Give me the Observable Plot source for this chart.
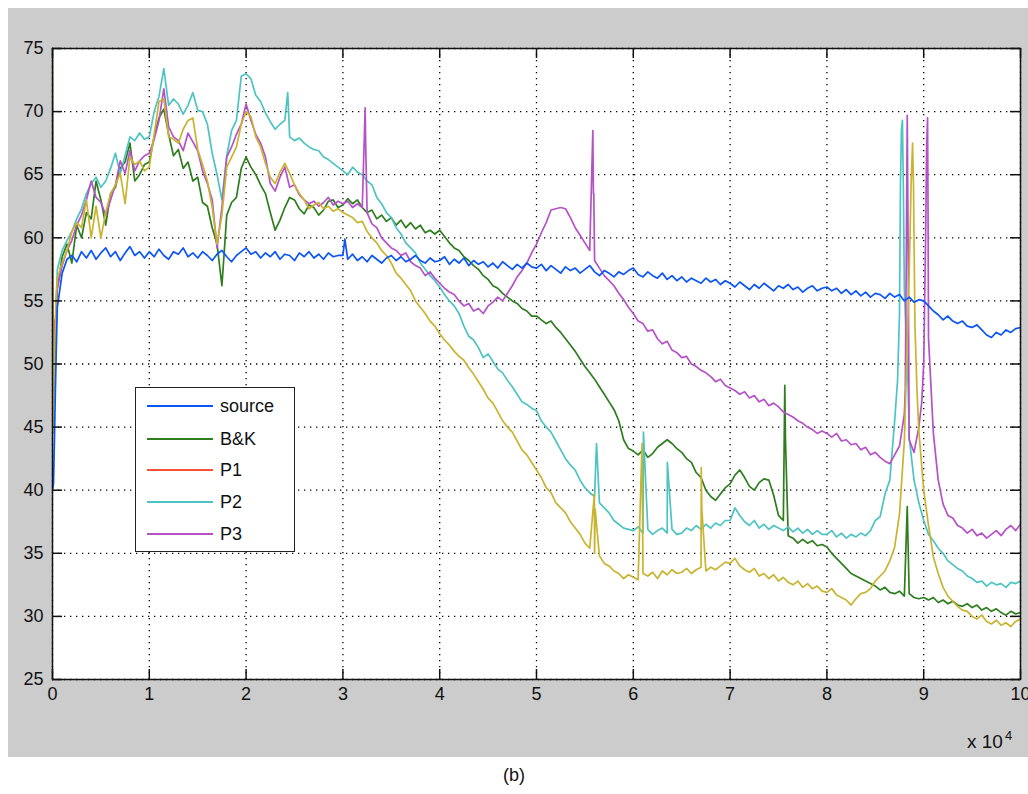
<!DOCTYPE html>
<html>
<head>
<meta charset="utf-8">
<script src="https://cdn.jsdelivr.net/npm/d3@7"></script>
<script src="https://cdn.jsdelivr.net/npm/@observablehq/plot@0.6"></script>
<style>
  body { margin: 0; background: #ffffff; font-family: "Liberation Sans", Arial, sans-serif; }
  #wrap { position: relative; width: 1028px; height: 794px; overflow: hidden; }
  #bg { position: absolute; left: 8px; top: 8px; width: 1020px; height: 749px; background: #cccccc; }
  #chart { position: absolute; left: 0; top: 0; }
  #legend { position: absolute; left: 135px; top: 387px; width: 158px; height: 163px; background: #fff; border: 1.5px solid #222; }
  .entry { position: absolute; left: 0; height: 20px; width: 158px; }
  .swatch { position: absolute; left: 11px; width: 66px; height: 0; border-top: 2px solid; top: 9px; }
  .lab { position: absolute; left: 84px; top: 0; font-size: 18px; line-height: 20px; color: #111; }
  #xexp { position: absolute; left: 967px; top: 732px; font-size: 19px; line-height: 1; color: #111; }
  #xexp sup { font-size: 13px; position: relative; top: -8px; vertical-align: baseline; margin-left: 2px; }
  #cap { position: absolute; left: 0; width: 1028px; text-align: center; top: 766px; font-size: 18px; line-height: 1; color: #111; }
</style>
</head>
<body>
<div id="wrap">
  <div id="bg"></div>
  <div id="chart"></div>
  <div id="legend"></div>
  <div id="xexp">x 10<sup>4</sup></div>
  <div id="cap">(b)</div>
</div>
<script>
// ---- axis ticks ----
const xTicks = [0, 1, 2, 3, 4, 5, 6, 7, 8, 9, 10];
const yTicks = [25, 30, 35, 40, 45, 50, 55, 60, 65, 70, 75];
const xStep = 0.05; // sampling step (x 10^4) of the value lists below

// ---- series values (one value every 0.05 from 0 to 10) ----
const sourceVals = [
  40, 54.5, 57.2, 58.3, 58.6, 58.1, 58.9, 58.4, 59.0, 58.3, 58.8, 59.2, 58.5, 58.9, 58.2, 58.8, 59.3, 58.6, 58.9, 58.4,
  58.9, 58.5, 59.1, 58.6, 58.3, 58.9, 58.7, 59.2, 58.5, 58.8, 58.4, 58.9, 58.6, 58.2, 58.7, 59.0, 58.5, 58.1, 58.6, 58.9,
  59.2, 58.7, 58.9, 58.4, 58.8, 58.5, 58.9, 58.3, 58.7, 58.6, 58.2, 58.8, 58.5, 58.9, 58.4, 58.7, 58.3, 58.8, 58.5, 58.6,
  58.6, 58.3, 58.7, 58.2, 58.5, 58.1, 58.6, 58.3, 58.0, 58.4, 58.6, 58.2, 58.5, 58.1, 58.3, 58.6, 58.2, 58.0, 58.4, 58.1,
  58.2, 58.5, 57.9, 58.3, 58.0, 58.4, 57.8, 58.2, 57.9, 58.1, 57.7, 58.0, 57.6, 58.1, 57.8, 57.5, 57.9, 57.6, 58.0, 57.7,
  57.6, 57.9, 57.4, 57.8, 57.5, 57.2, 57.7, 57.4, 57.6, 57.2, 57.5, 57.8, 57.3, 57.0, 57.4, 57.2, 56.9, 57.3, 57.1, 57.4,
  57.6, 57.1, 56.9, 57.3, 57.0, 56.8, 57.2, 56.7, 57.0, 56.6, 56.9, 56.5, 56.8, 56.6, 56.4, 56.8, 56.5, 56.7, 56.3, 56.6,
  56.4, 56.1, 56.5, 56.2, 55.9, 56.3, 56.0, 56.4, 56.1, 55.8, 56.2, 56.0, 56.3, 55.9, 56.1, 55.7, 56.0, 56.2, 55.8, 56.0,
  56.1, 55.8, 56.0, 55.6, 55.9, 55.5, 55.8, 55.4, 55.7, 55.3, 55.6, 55.5, 55.2, 55.6, 55.3, 55.5, 55.0, 55.3, 54.9, 55.1,
  55.0, 54.6, 54.2, 53.9, 53.5, 53.8, 53.4, 53.2, 53.4, 53.0, 52.9, 53.1, 52.7, 52.3, 52.1, 52.5, 52.3, 52.7, 52.5, 52.8,
  52.9
];
const sourceExtra = [[0.01, 40.5], [0.02, 44], [0.03, 48], [0.04, 51.5], [3.02, 59.9]];

const bkVals = [
  75, 56.0, 58.5, 59.5, 58.0, 61.0, 60.0, 62.0, 61.5, 64.5, 63.0, 61.0, 63.5, 64.0, 65.5, 66.0, 67.5, 64.5, 65.0, 65.8,
  66.0, 68.0, 69.5, 70.2, 68.2, 66.5, 67.0, 65.5, 66.0, 64.5, 64.8, 62.8, 62.5, 60.8, 59.5, 56.2, 61.8, 62.8, 63.2, 65.5,
  66.4, 65.6, 65.0, 64.2, 63.5, 62.0, 60.6, 61.4, 62.4, 63.2, 63.0, 62.3, 61.9, 62.6, 62.4, 61.8, 62.2, 62.9, 63.0, 62.4,
  62.6, 63.1, 62.7, 63.0, 62.4, 62.0, 62.2, 61.5, 61.8, 61.3, 61.6, 61.0, 61.4, 60.8, 61.2, 60.7, 61.0, 60.4, 60.6, 60.3,
  60.6, 60.1, 59.6, 59.2, 59.0, 58.5, 58.2, 57.8, 57.5, 57.0, 56.7, 56.2, 56.0, 55.6, 55.3, 55.0, 54.8, 54.4, 54.2, 53.8,
  53.8, 53.5, 53.2, 53.4, 52.9, 52.5, 52.0, 51.5, 51.0, 50.4, 49.8, 49.3, 48.8, 48.2, 47.6, 47.0, 46.4, 45.5, 44.0, 43.3,
  43.1, 42.8, 43.2, 42.6, 42.9, 43.4, 43.7, 44.0, 43.7, 43.3, 43.0, 42.5, 42.2, 41.4, 41.0, 40.0, 39.5, 39.2, 39.7, 40.2,
  40.5, 41.2, 41.6, 41.0, 40.3, 40.0, 40.6, 40.9, 40.8, 39.6, 38.0, 37.6, 36.4, 36.2, 35.8, 36.1, 35.8, 36.0, 35.6, 35.7,
  35.5, 35.0, 34.6, 34.2, 33.8, 33.4, 33.2, 33.0, 32.8, 32.6, 32.4, 32.1, 32.3, 31.9, 31.8, 32.0, 31.6, 31.8, 31.5, 31.4,
  31.5, 31.3, 31.5, 31.1, 31.3, 31.0, 31.2, 30.9, 30.8, 31.0, 30.7, 30.9, 30.5, 30.7, 30.4, 30.6, 30.3, 30.1, 30.4, 30.2,
  30.3
];
const bkExtra = [[0.008, 47.5], [0.02, 50.5], [0.035, 54], [7.565, 48.3], [7.572, 44], [8.83, 38.7]];

const p2Vals = [
  52.0, 57.5, 59.0, 59.8, 60.5, 61.5, 62.3, 63.5, 64.3, 64.8, 64.0, 64.5, 65.5, 66.7, 65.1, 66.5, 68.0, 67.7, 68.3, 67.8,
  68.0, 70.0, 71.2, 73.4, 70.5, 71.0, 70.6, 69.8, 70.5, 71.5, 70.1, 70.0, 69.0, 66.7, 65.0, 63.0, 66.5, 68.5, 69.3, 72.8,
  73.0, 72.6, 71.3, 70.8, 69.9, 69.2, 68.6, 69.0, 69.3, 68.0, 67.7, 67.9, 67.5, 67.2, 67.0, 66.9, 66.4, 66.2, 65.9, 65.6,
  65.3, 65.0, 65.6, 65.2, 65.0, 64.5, 64.2, 63.2, 62.7, 62.0, 61.6, 60.8, 60.3, 59.6, 59.2, 58.8, 58.0, 57.5, 57.0, 56.6,
  56.1, 55.5, 55.0, 54.6, 54.0, 53.0, 52.2, 51.9, 51.3, 50.5, 50.8, 50.2, 49.6, 49.3, 48.7, 48.2, 47.6, 47.0, 46.8, 46.5,
  46.3, 45.5, 45.0, 44.6, 43.9, 43.2, 42.5, 42.0, 41.6, 40.8, 40.2, 39.8, 39.5, 39.0, 38.6, 38.2, 37.6, 37.3, 37.0, 36.9,
  36.8, 37.1, 36.6, 36.9, 36.5, 36.8, 37.0, 36.6, 36.9, 36.5, 36.6, 37.0, 36.8, 37.2, 36.9, 37.3, 37.0, 37.4, 37.2, 37.6,
  37.6, 38.6, 38.0, 37.5, 37.2, 37.6, 37.0, 37.3, 36.9, 37.2, 37.0, 36.8, 37.1, 36.7, 37.0, 36.6, 36.9, 36.5, 36.8, 36.5,
  36.5, 36.8, 36.3, 36.6, 36.2, 36.5, 36.3, 36.6, 36.4, 36.8, 37.6, 37.9, 39.7, 40.8, 45.5, 54.0, 56.0, 44.2, 40.8, 39.0,
  37.6, 36.5, 36.0, 35.4, 35.0, 34.4, 34.1, 33.8, 33.6, 33.2, 33.0, 32.7, 32.8, 32.4, 32.7, 32.5, 32.6, 32.3, 32.7, 32.6,
  32.8
];
const p2Extra = [[0.01, 47], [0.03, 53], [2.43, 71.5], [5.62, 43.7], [6.105, 44.6], [6.352, 42.2],
  [8.73, 48.7], [8.76, 64.3], [8.77, 68.5], [8.78, 69.3], [8.79, 63.9], [8.82, 52], [8.84, 48]];

const p3Vals = [
  65.5, 56.0, 57.8, 59.0, 59.8, 61.0, 61.8, 63.0, 64.5, 63.2, 62.8, 61.8, 63.0, 64.2, 66.1, 65.1, 66.9, 65.3, 66.1, 66.5,
  66.7, 67.8, 69.3, 71.8, 68.8, 68.0, 67.7, 66.9, 68.3, 67.6, 66.9, 65.3, 64.3, 63.0, 59.2, 62.4, 66.4, 67.2, 68.2, 69.0,
  70.6, 69.3, 68.2, 67.5, 66.4, 64.3, 63.7, 64.8, 65.6, 64.0, 64.2, 63.4, 63.0, 62.7, 62.9, 62.5, 62.8, 63.2, 62.6, 62.9,
  62.7, 62.9, 62.4, 62.7, 62.4, 62.0, 61.1, 60.8, 60.0, 59.6, 59.2, 59.0, 58.6, 58.8, 58.1, 57.8, 57.6, 57.0, 57.3, 56.8,
  56.4, 56.0, 55.7, 55.5, 55.0, 54.6, 54.8, 54.2, 54.4, 54.0, 54.6, 54.9, 55.3, 55.0, 55.6, 56.2, 56.9, 57.4, 58.0, 58.8,
  59.5, 60.4, 61.2, 62.2, 62.3, 62.4, 62.3, 61.6, 60.8, 60.2, 59.6, 59.0, 58.2, 57.6, 57.0, 56.6, 56.2, 55.6, 55.1, 54.5,
  54.0, 53.4, 53.2, 52.6, 52.7, 52.0, 51.6, 51.8, 51.1, 50.9, 50.5, 50.6, 50.0, 49.8, 49.5, 49.3, 49.0, 48.6, 48.8, 48.3,
  48.1, 47.9, 47.6, 47.8, 47.3, 47.5, 47.0, 47.2, 46.7, 46.9, 46.6, 46.2, 46.0, 45.8, 45.5, 45.3, 45.0, 44.8, 44.5, 44.7,
  44.5, 44.2, 44.5, 43.9, 44.0, 43.6, 43.7, 43.2, 43.4, 42.8, 43.0, 42.6, 42.3, 42.1, 42.8, 43.5, 46.0, 44.0, 43.0, 45.0,
  50.0, 52.0, 44.5, 40.8, 38.9, 38.0, 37.8, 37.2, 37.0, 36.6, 36.9, 36.4, 36.6, 36.2, 36.5, 36.8, 36.4, 36.9, 37.2, 36.8,
  37.3
];
const p3Extra = [[0.005, 50.0], [0.015, 53.5], [0.03, 52], [0.04, 55], [3.23, 70.3], [3.235, 67.5],
  [5.582, 68.5], [5.588, 63.5], [5.592, 63.5], [8.81, 48], [8.82, 58.4], [8.83, 69.7], [8.84, 58.4],
  [8.98, 47], [9.02, 60], [9.03, 67.2], [9.04, 69.5], [9.045, 62]];

// olive trace drawn in the figure (not listed in its legend)
const oliveVals = [
  61.5, 56.8, 58.0, 59.0, 60.5, 61.2, 60.8, 63.0, 60.0, 62.5, 60.0, 62.0, 63.5, 64.2, 65.1, 62.7, 66.4, 65.8, 66.1, 65.3,
  65.6, 68.2, 70.8, 71.0, 68.0, 67.8, 67.5, 68.6, 69.3, 69.5, 67.0, 65.8, 64.5, 62.4, 59.5, 61.8, 65.6, 66.4, 67.2, 69.0,
  70.0, 69.6, 68.0, 67.2, 65.9, 64.8, 64.3, 65.2, 65.9, 65.1, 64.2, 63.5, 63.0, 62.3, 62.6, 62.8, 62.3, 62.5, 62.1, 62.3,
  62.0, 61.8, 61.6, 61.2, 61.3, 60.5, 60.0, 59.6, 59.0, 58.6, 58.0, 57.2, 56.8, 56.3, 55.8, 55.0, 54.5, 54.0, 53.4, 53.0,
  52.4, 51.9, 51.5, 51.0, 50.6, 50.3, 49.7, 49.2, 48.6, 48.0, 47.3, 46.9, 46.2, 45.5, 45.0, 44.6, 43.9, 43.2, 42.8, 42.2,
  41.6, 41.0, 40.2, 39.8, 39.0, 38.6, 38.2, 37.5, 37.0, 36.5, 35.8, 35.4, 35.0, 34.8, 34.2, 34.0, 33.6, 33.4, 33.0, 33.3,
  33.1, 32.9, 33.4, 33.2, 33.5, 33.0, 33.6, 33.3, 33.7, 33.4, 33.5, 33.8, 33.4, 33.7, 33.9, 33.6, 33.9, 33.7, 34.0, 34.3,
  34.2, 34.6, 34.0, 33.7, 33.5, 33.8, 33.2, 33.4, 33.0, 33.3, 32.8, 33.1, 32.7, 32.5, 32.8, 32.3, 32.6, 32.2, 32.4, 32.0,
  31.9, 32.2, 31.7, 31.5, 31.3, 30.9, 31.4, 31.8, 31.9, 32.2, 32.8, 33.2, 33.6, 34.4, 35.5, 38.1, 43.9, 57.0, 60.0, 44.7,
  40.0, 37.2, 34.7, 33.4, 32.3, 31.6, 31.2, 30.8, 30.5, 30.4, 30.0, 29.8, 30.1, 29.6, 29.4, 29.7, 29.3, 29.5, 29.2, 29.6,
  29.8
];
const oliveExtra = [[0.005, 44.5], [0.02, 50], [0.035, 55], [5.598, 39.7], [5.606, 38.5], [6.09, 43.7],
  [6.702, 41.8], [6.708, 38.5], [8.87, 64.3], [8.885, 67.5], [8.895, 64], [8.91, 53], [8.93, 48]];

// ---- legend ----
const legendNames = ["source", "B&K", "P1", "P2", "P3"];
const legendColors = ["#0a55f5", "#2e7d1e", "#f5503a", "#4ec3c3", "#b552c8"];
const oliveColor = "#c9b430";

function build(vals, extra) {
  const rows = vals.map((v, i) => ({x: +(i * xStep).toFixed(3), y: v}));
  extra.forEach(([x, y]) => rows.push({x, y}));
  rows.sort((a, b) => a.x - b.x);
  return rows;
}

const series = [
  {rows: build(bkVals, bkExtra), color: legendColors[1]},
  {rows: build(p2Vals, p2Extra), color: legendColors[3]},
  {rows: build(p3Vals, p3Extra), color: legendColors[4]},
  {rows: build(oliveVals, oliveExtra), color: oliveColor},
  {rows: build(sourceVals, sourceExtra), color: legendColors[0]}
];

const frameW = 1028 - 52 - 8;   // inner plot width
const frameH = 794 - 48 - 115;  // inner plot height
const tickLen = 10;

const chart = Plot.plot({
  width: 1028,
  height: 794,
  marginLeft: 52,
  marginRight: 8,
  marginTop: 48,
  marginBottom: 115,
  x: {domain: [0, 10]},
  y: {domain: [25, 75]},
  style: {background: "transparent", fontFamily: "'Liberation Sans', Arial, sans-serif", fontSize: "18px", color: "#111"},
  marks: [
    Plot.frame({fill: "white", stroke: null}),
    Plot.gridX(xTicks, {stroke: "#000", strokeOpacity: 1, strokeWidth: 1.3, strokeDasharray: "1.3,4.7"}),
    Plot.gridY(yTicks, {stroke: "#000", strokeOpacity: 1, strokeWidth: 1.3, strokeDasharray: "1.3,4.7"}),
    ...series.map(s => Plot.line(s.rows, {x: "x", y: "y", stroke: s.color, strokeWidth: 1.7, clip: true})),
    Plot.tickY(yTicks, {y: d => d, stroke: "#111", strokeWidth: 1.5, insetRight: frameW - tickLen}),
    Plot.tickY(yTicks, {y: d => d, stroke: "#111", strokeWidth: 1.5, insetLeft: frameW - tickLen}),
    Plot.tickX(xTicks, {x: d => d, stroke: "#111", strokeWidth: 1.5, insetTop: frameH - tickLen}),
    Plot.tickX(xTicks, {x: d => d, stroke: "#111", strokeWidth: 1.5, insetBottom: frameH - tickLen}),
    Plot.axisX({ticks: xTicks, tickSize: 0, tickPadding: 8, tickFormat: d => String(d), fontSize: 18, label: null}),
    Plot.axisY({ticks: yTicks, tickSize: 0, tickPadding: 9, tickFormat: d => String(d), fontSize: 18, label: null}),
    Plot.frame({stroke: "#111", strokeWidth: 1.5, fill: null})
  ]
});
document.getElementById("chart").appendChild(chart);

// legend entries (HTML overlay, as in the reference figure)
const legend = document.getElementById("legend");
const entryTop = [8, 41, 72, 104, 136];
legendNames.forEach((name, i) => {
  const e = document.createElement("div");
  e.className = "entry";
  e.style.top = entryTop[i] + "px";
  const sw = document.createElement("div");
  sw.className = "swatch";
  sw.style.borderTopColor = legendColors[i];
  const lb = document.createElement("div");
  lb.className = "lab";
  lb.textContent = name;
  e.appendChild(sw);
  e.appendChild(lb);
  legend.appendChild(e);
});
</script>
</body>
</html>
